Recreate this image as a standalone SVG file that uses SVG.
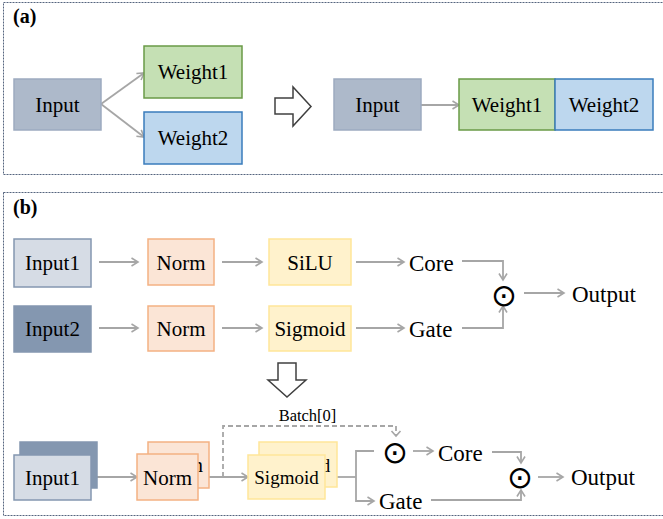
<svg xmlns="http://www.w3.org/2000/svg" width="663" height="519" viewBox="0 0 663 519">
<style>
.frame{fill:none;stroke:#55647e;stroke-width:1;stroke-dasharray:2 1}
.t{font-family:"Liberation Serif","Times New Roman",serif;font-size:21px;fill:#000;text-anchor:middle}
.lbl{font-family:"Liberation Serif","Times New Roman",serif;font-size:23px;fill:#000}
.sec{font-family:"Liberation Serif","Times New Roman",serif;font-size:20px;font-weight:bold;fill:#000}
.op{font-family:"DejaVu Sans",sans-serif;font-size:31px;fill:#000;text-anchor:middle}
.c{fill:none;stroke:#a6a6a6;stroke-width:1.8;marker-end:url(#ah)}
.cn{fill:none;stroke:#a6a6a6;stroke-width:1.8}
.dash{fill:none;stroke:#a6a6a6;stroke-width:1.8;stroke-dasharray:5 3}
.big{fill:#fff;stroke:#404040;stroke-width:1.5}
.inp{fill:#adb9ca;stroke:#9dabc0;stroke-width:1.5}
.w1{fill:#c5e0b4;stroke:#6a9a47;stroke-width:1.5}
.w2{fill:#bdd7ee;stroke:#3a7cbc;stroke-width:1.5}
.in1{fill:#d6dce5;stroke:#8497b0;stroke-width:1.5}
.in2{fill:#8497b0;stroke:#8497b0;stroke-width:1.5}
.nrm{fill:#fbe5d6;stroke:#f4b183;stroke-width:1.5}
.act{fill:#fff2cc;stroke:#ffe699;stroke-width:1.5}
</style>
<defs>
<marker id="ah" markerWidth="10" markerHeight="10" refX="8" refY="5" orient="auto" markerUnits="userSpaceOnUse">
<path d="M1.5,1 L8,5 L1.5,9" fill="none" stroke="#a6a6a6" stroke-width="1.6"/>
</marker>
</defs>

<!-- frames -->
<rect class="frame" x="3.5" y="2.5" width="680" height="172"/>
<rect class="frame" x="3.5" y="192.5" width="680" height="323"/>
<text class="sec" x="13" y="23">(a)</text>
<text class="sec" x="13" y="214">(b)</text>

<!-- connectors -->
<g id="connectors">
<line class="c" x1="101" y1="104" x2="144" y2="73"/>
<line class="c" x1="101" y1="104" x2="144" y2="137"/>
<line class="c" x1="421" y1="105" x2="459" y2="105"/>
<line class="c" x1="99" y1="262" x2="138" y2="262"/>
<line class="c" x1="99" y1="328" x2="138" y2="328"/>
<line class="c" x1="222" y1="262" x2="262" y2="262"/>
<line class="c" x1="222" y1="328" x2="262" y2="328"/>
<line class="c" x1="356" y1="262" x2="404" y2="262"/>
<line class="c" x1="356" y1="328" x2="404" y2="328"/>
<polyline class="c" points="462,261 503,261 503,280"/>
<polyline class="c" points="462,328 503,328 503,306"/>
<line class="c" x1="524" y1="293" x2="564" y2="293"/>
<line class="c" x1="97" y1="477" x2="137" y2="477"/>
<line class="c" x1="209" y1="477" x2="248" y2="477"/>
<polyline class="dash" points="223,477 223,426 396,426 396,435"/>
<path d="M391.5,431 L396,436 L400.5,431" fill="none" stroke="#a6a6a6" stroke-width="1.6"/>
<line class="cn" x1="337" y1="477" x2="356" y2="477"/>
<polyline class="c" points="374,451 356,451 356,501 374,501"/>
<line class="c" x1="413" y1="451" x2="433" y2="451"/>
<polyline class="c" points="492,452 521,452 521,463"/>
<polyline class="c" points="431,500 521,500 521,490"/>
<line class="c" x1="538" y1="477" x2="563" y2="477"/>
</g>

<!-- (a) left -->
<g id="a-input"><rect class="inp" x="14" y="79" width="87" height="51"/><text class="t" x="57.5" y="112">Input</text></g>
<g id="a-weight1"><rect class="w1" x="144" y="46" width="98" height="52"/><text class="t" x="193" y="79">Weight1</text></g>
<g id="a-weight2"><rect class="w2" x="144" y="112" width="98" height="52"/><text class="t" x="193" y="145">Weight2</text></g>
<polygon id="a-arrow" class="big" points="275,98 293,98 293,87 311,106.5 293,126 293,114 275,114"/>
<!-- (a) right -->
<g id="a-input-r"><rect class="inp" x="334" y="79" width="87" height="51"/><text class="t" x="377.5" y="112">Input</text></g>
<g id="a-weight1-r"><rect class="w1" x="459" y="79" width="96" height="51"/><text class="t" x="507" y="112">Weight1</text></g>
<g id="a-weight2-r"><rect class="w2" x="555" y="79" width="98" height="51"/><text class="t" x="604" y="112">Weight2</text></g>

<!-- (b) top -->
<g id="b-input1"><rect class="in1" x="14" y="239" width="77" height="48"/><text class="t" x="52.5" y="270">Input1</text></g>
<g id="b-input2"><rect class="in2" x="14" y="306" width="77" height="46"/><text class="t" x="52.5" y="336">Input2</text></g>
<g id="b-norm1"><rect class="nrm" x="148" y="239" width="66" height="46"/><text class="t" x="181" y="270">Norm</text></g>
<g id="b-norm2"><rect class="nrm" x="148" y="306" width="66" height="45"/><text class="t" x="181" y="336">Norm</text></g>
<g id="b-silu"><rect class="act" x="269" y="239" width="82" height="46"/><text class="t" x="310" y="270">SiLU</text></g>
<g id="b-sigmoid"><rect class="act" x="269" y="306" width="82" height="45"/><text class="t" x="310" y="336">Sigmoid</text></g>
<g id="b-core"><text class="lbl" x="409" y="271">Core</text></g>
<g id="b-gate"><text class="lbl" x="409" y="337">Gate</text></g>
<g id="b-mul"><text class="op" x="504" y="305.5">⊙</text></g>
<g id="b-output"><text class="lbl" x="572" y="302">Output</text></g>
<polygon id="b-arrow" class="big" points="278,363 296,363 296,380 306,380 287,397 268,380 278,380"/>
<text id="b-batch" x="307.5" y="421" style="font-family:'Liberation Serif','Times New Roman',serif;font-size:16.5px;text-anchor:middle">Batch[0]</text>

<!-- (b) bottom -->
<g id="c-input"><rect class="in2" x="20" y="442" width="77" height="46"/><rect class="in1" x="14" y="455" width="77" height="45"/><text class="t" x="52.5" y="485">Input1</text></g>
<g id="c-norm"><rect class="nrm" x="148" y="442" width="61" height="46"/><text class="t" x="178.5" y="472">Norm</text><rect class="nrm" x="137" y="454" width="61" height="46"/><text class="t" x="167.5" y="485">Norm</text></g>
<g id="c-sigmoid"><rect class="act" x="259" y="442" width="78" height="45"/><text class="t" x="298" y="472" style="font-size:19px">Sigmoid</text><rect class="act" x="248" y="455" width="77" height="44"/><text class="t" x="286.5" y="484" style="font-size:19px">Sigmoid</text></g>
<g id="c-mul1"><text class="op" x="395" y="462.5">⊙</text></g>
<g id="c-core"><text class="lbl" x="438" y="461">Core</text></g>
<g id="c-gate"><text class="lbl" x="379" y="509">Gate</text></g>
<g id="c-mul2"><text class="op" x="520" y="487.5">⊙</text></g>
<g id="c-output"><text class="lbl" x="571" y="485">Output</text></g>
</svg>
